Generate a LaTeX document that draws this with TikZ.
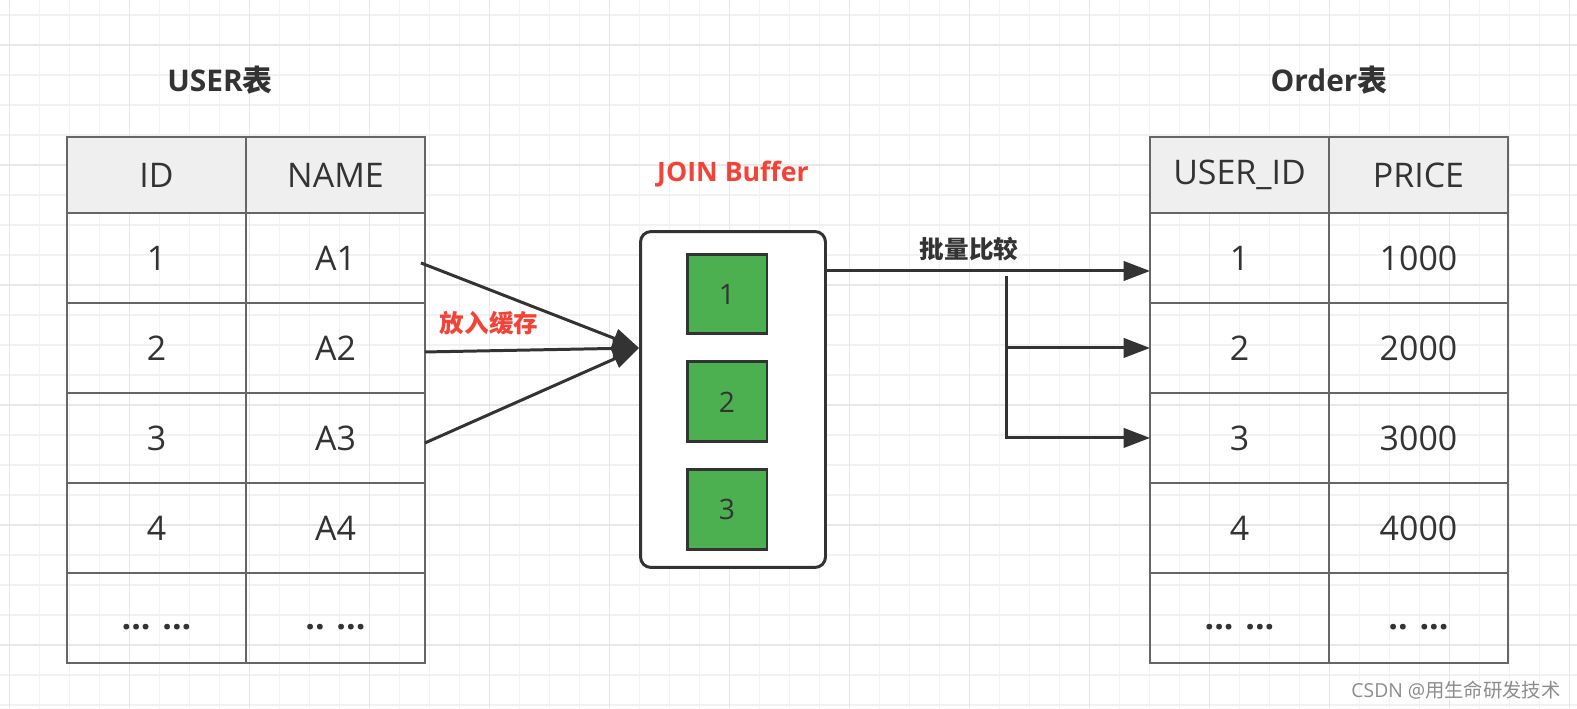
\documentclass[tikz,border=0pt]{standalone}
\usepackage{fontspec}
\setmainfont{Open Sans}
\newfontfamily\cjk{Noto Sans CJK SC}
\usetikzlibrary{positioning, calc, arrows.meta}

\definecolor{ink}{HTML}{333333}
\definecolor{cellline}{HTML}{666666}
\definecolor{headfill}{HTML}{EFEFEF}
\definecolor{bufgreen}{HTML}{4CAF50}
\definecolor{hotred}{HTML}{F44336}
\definecolor{gridminor}{HTML}{F2F2F2}
\definecolor{gridmajor}{HTML}{E8E8E8}

\begin{document}
\begin{tikzpicture}[
                x=0.02cm, y=-0.02cm,
                font=\fontsize{19.3}{22}\selectfont,
                text=ink,
                >={Triangle[length=15pt, width=11pt]},
                cell/.style={draw=cellline, line width=1.1pt, outer sep=0pt, inner sep=0pt,
                             minimum width=3.58cm, minimum height=1.8cm},
                headcell/.style={cell, fill=headfill, minimum height=1.52cm},
                title/.style={font=\fontsize{17}{20}\selectfont\bfseries},
                slot/.style={draw=ink, line width=1.7pt, fill=bufgreen, minimum size=1.6cm,
                             font=\fontsize{16}{18}\selectfont},
                flow/.style={draw=ink, line width=1.7pt, ->},
                note/.style={font=\fontsize{14}{16}\selectfont\bfseries\cjk}]

    \useasboundingbox (0,0) rectangle (1577,709);

    %%% GRID
    \foreach \gx in {9.3,39.3,...,1577} \draw[gridminor, line width=0.8pt] (\gx,0) -- (\gx,709);
    \foreach \gy in {15,45,...,709} \draw[gridminor, line width=0.8pt] (0,\gy) -- (1577,\gy);
    \foreach \gx in {9.3,129.3,...,1577} \draw[gridmajor, line width=0.9pt] (\gx,0) -- (\gx,709);
    \foreach \gy in {45,165,...,709} \draw[gridmajor, line width=0.9pt] (0,\gy) -- (1577,\gy);

    %%% USER TABLE
    \node [title] (usertitle) at (220,80) {USER{\cjk 表}};
    \node [headcell] (uid) at (156.5,175) {ID};
    \node [headcell, right=0pt of uid] (uname) {NAME};
    \node [cell, below=0pt of uid] (uid1) {1};
    \node [cell, below=0pt of uname] (uname1) {A1};
    \node [cell, below=0pt of uid1] (uid2) {2};
    \node [cell, below=0pt of uname1] (uname2) {A2};
    \node [cell, below=0pt of uid2] (uid3) {3};
    \node [cell, below=0pt of uname2] (uname3) {A3};
    \node [cell, below=0pt of uid3] (uid4) {4};
    \node [cell, below=0pt of uname3] (uname4) {A4};
    \node [cell, below=0pt of uid4] (uidx) {\vphantom{1}\textbf{... ...}};
    \node [cell, below=0pt of uname4] (unamex) {\vphantom{1}\textbf{.. ...}};

    %%% ORDER TABLE
    \node [title] (ordertitle) at (1329,80) {Order{\cjk 表}};
    \node [headcell] (oid) at (1239.5,175) {USER\_ID};
    \node [headcell, right=0pt of oid] (oprice) {PRICE};
    \node [cell, below=0pt of oid] (oid1) {1};
    \node [cell, below=0pt of oprice] (oprice1) {1000};
    \node [cell, below=0pt of oid1] (oid2) {2};
    \node [cell, below=0pt of oprice1] (oprice2) {2000};
    \node [cell, below=0pt of oid2] (oid3) {3};
    \node [cell, below=0pt of oprice2] (oprice3) {3000};
    \node [cell, below=0pt of oid3] (oid4) {4};
    \node [cell, below=0pt of oprice3] (oprice4) {4000};
    \node [cell, below=0pt of oid4] (oidx) {\vphantom{1}\textbf{... ...}};
    \node [cell, below=0pt of oprice4] (opricex) {\vphantom{1}\textbf{.. ...}};

    %%% JOIN BUFFER
    \node [draw=ink, line width=1.7pt, rounded corners=6pt, fill=white,
           minimum width=3.7cm, minimum height=6.72cm] (buffer) at (733,399.5) {};
    \node [font=\fontsize{15.2}{18}\selectfont\bfseries, text=hotred] (buftitle) at (733,174) {JOIN Buffer};
    \node [slot] (slot1) at (727,294) {1};
    \node [slot, below=0.5cm of slot1] (slot2) {2};
    \node [slot, below=0.5cm of slot2] (slot3) {3};

    %%% CONNECTIONS
    \path ($(uname1.east)+(-4,5)$) edge [flow] ($(buffer.west |- uname2)$);
    \path ($(uname3.east)+(0,5)$) edge [flow] ($(buffer.west |- uname2)$);
    \path ($(uname2.east)+(0,4)$) edge [flow] node[note, text=hotred, pos=0.3, yshift=0.56cm] {放入缓存} ($(buffer.west |- uname2)$);

    \path ($(buffer.east |- oid1)+(0,13)$) edge [flow] node[note, pos=0.44, yshift=0.44cm] {批量比较} ($(oid1.west)+(0,13)$);
    \coordinate (fork) at (1006,276);
    \draw [flow] (fork) |- (oid2.west);
    \draw [flow] (fork) |- (oid3.west);

    %%% WATERMARK
    \node [font=\fontsize{11}{13}\selectfont, text=black!45] (mark) at (1456,690) {CSDN @{\cjk 用生命研发技术}};

\end{tikzpicture}
\end{document}
